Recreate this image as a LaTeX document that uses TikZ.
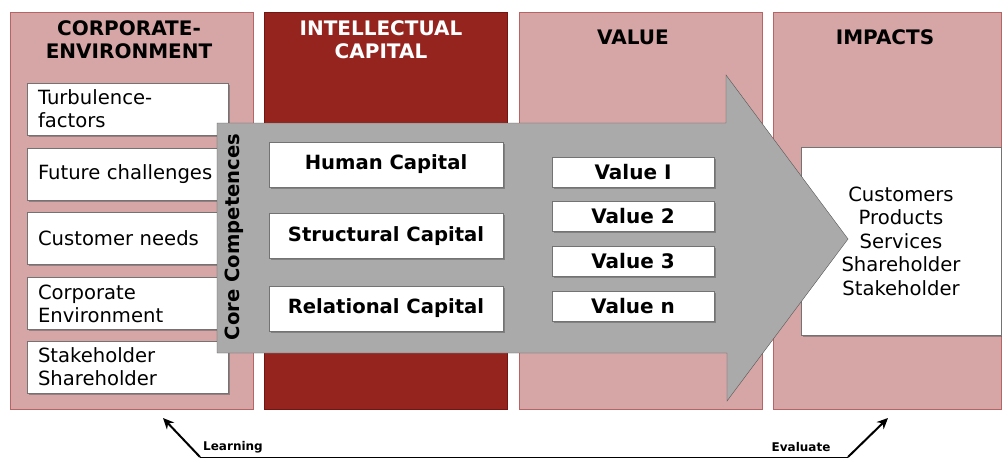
\documentclass[tikz,border=0pt]{standalone}
\usepackage{fontspec}
\setmainfont{DejaVu Sans}
\usepackage{xcolor}
\definecolor{icpink}{RGB}{214,166,166}
\definecolor{icpinkline}{RGB}{185,100,100}
\definecolor{icred}{RGB}{150,36,30}
\definecolor{icredline}{RGB}{115,22,18}
\definecolor{icgray}{RGB}{170,170,170}
\definecolor{icgrayline}{RGB}{85,85,85}
\usetikzlibrary{arrows.meta, shadows}

\begin{document}
\begin{tikzpicture}[x=1pt, y=-1pt,
  column/.style={draw=icpinkline, fill=icpink, inner sep=0pt,
      minimum width=243pt, minimum height=397pt},
  header/.style={font=\fontsize{20}{23}\selectfont\bfseries, align=center},
  whitebox/.style={draw=black!55, fill=white, inner sep=0pt,
      drop shadow={shadow xshift=1.5pt, shadow yshift=-1.5pt, fill=black!65}},
  factor/.style={whitebox, minimum height=52pt, text width=179pt, inner xsep=11pt,
      align=left, font=\fontsize{19.6}{23}\selectfont},
  capital/.style={whitebox, minimum width=234pt, minimum height=45pt,
      font=\fontsize{19.6}{20}\selectfont\bfseries},
  valuebox/.style={whitebox, minimum width=162pt, minimum height=30pt,
      font=\fontsize{20}{20}\selectfont\bfseries},
  loopnote/.style={font=\fontsize{12}{12}\selectfont\bfseries}
]
\useasboundingbox (0,0) rectangle (1002,458);

% Columns
\node[column] (envcol) at (131.5,210.5) {};
\node[column, draw=icredline, fill=icred] (iccol) at (385.5,211) {};
\node[column] (valcol) at (640.5,210.5) {};
\node[column, minimum width=228pt] (impcol) at (887,210.5) {};

% Column headers
\node[header] (envhead) at (129,40) {CORPORATE-\\ENVIRONMENT};
\node[header, text=white] (ichead) at (381,40) {INTELLECTUAL\\CAPITAL};
\node[header] (valhead) at (633,37) {VALUE};
\node[header] (imphead) at (885,37) {IMPACTS};

% Corporate environment factors
\node[factor] (turb) at (127.5,109) {Turbulence-\\factors};
\node[factor] (future) at (127.5,174) {Future challenges};
\node[factor] (needs) at (127.5,238.5) {Customer needs};
\node[factor] (corp) at (127.5,303.5) {Corporate\\Environment};
\node[factor] (stake) at (127.5,367) {Stakeholder\\Shareholder};

% Impacts
\node[whitebox, minimum width=200pt, minimum height=188pt, align=center,
      font=\fontsize{19.6}{23.5}\selectfont] (impacts) at (901,241)
      {Customers\\Products\\Services\\Shareholder\\Stakeholder};

% Big arrow
\draw[draw=icgrayline, fill=icgray] (217,123) -- (726,123) -- (726,75) -- (848,239)
  -- (727,401) -- (727,353) -- (217,353) -- cycle;
\node[rotate=90, font=\fontsize{19.6}{20}\selectfont\bfseries] (core) at (234,237) {Core Competences};

% Intellectual capital
\node[capital] (human) at (386,164.5) {Human Capital};
\node[capital] (struct) at (386,236) {Structural Capital};
\node[capital] (relat) at (386,308.5) {Relational Capital};

% Values
\node[valuebox] (val1) at (633,172) {Value I};
\node[valuebox] (val2) at (633,216.5) {Value 2};
\node[valuebox] (val3) at (633,261) {Value 3};
\node[valuebox] (valn) at (633,306) {Value n};

% Feedback loop
\coordinate (learnfoot) at (200,457);
\coordinate (learntip) at (163,418);
\coordinate (evalfoot) at (848,457);
\coordinate (evaltip) at (888,418);
\draw[line width=1pt] (learnfoot) -- (evalfoot);
\draw[line width=2pt, -{Stealth[length=11pt, width=10pt]}] (learnfoot) -- (learntip);
\draw[line width=2pt, -{Stealth[length=11pt, width=10pt]}] (evalfoot) -- (evaltip);
\node[loopnote] (learn) at (233,447) {Learning};
\node[loopnote] (eval) at (801,447) {Evaluate};

\end{tikzpicture}
\end{document}
